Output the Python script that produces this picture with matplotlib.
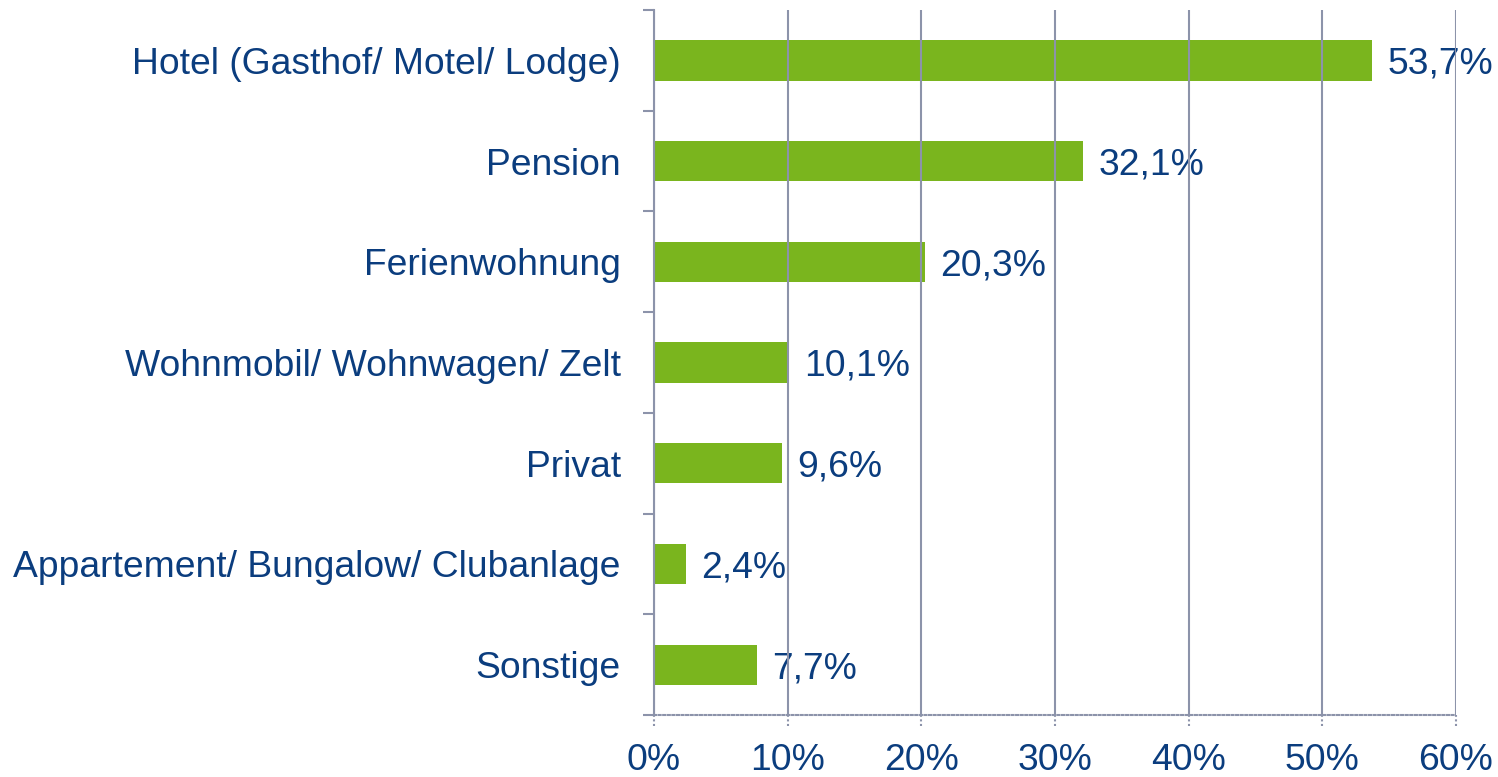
import matplotlib
matplotlib.use("Agg")
import matplotlib.pyplot as plt
from matplotlib.ticker import FixedLocator

categories = ["Hotel (Gasthof/ Motel/ Lodge)", "Pension", "Ferienwohnung",
              "Wohnmobil/ Wohnwagen/ Zelt", "Privat",
              "Appartement/ Bungalow/ Clubanlage", "Sonstige"]
values = [53.7, 32.1, 20.3, 10.1, 9.6, 2.4, 7.7]
xticks = [0, 10, 20, 30, 40, 50, 60]
xticklabels = ["0%", "10%", "20%", "30%", "40%", "50%", "60%"]

plt.rcParams['font.family'] = ['Liberation Sans', 'DejaVu Sans']
text_col = "#0b3d7e"
grid_col = "#8c93aa"
bar_col = "#7ab51e"
fs = 26.8

fig = plt.figure(figsize=(14.98, 7.77), dpi=100)
ax = fig.add_axes([654/1498, 62/777, 802/1498, 705/777])

y = list(range(len(categories)))
ax.barh(y, values, height=0.4, color=bar_col, zorder=2)
ax.set_xlim(0, 60)
ax.set_ylim(len(categories) - 0.5, -0.5)

for yi, v in zip(y, values):
    ax.annotate(f"{v:.1f}".replace(".", ",") + "%", (v, yi), xytext=(11, 0),
                textcoords="offset points", va="center_baseline", ha="left",
                fontsize=fs, color=text_col, zorder=3)

ax.set_yticks(y)
ax.set_yticklabels(categories, fontsize=fs, color=text_col)
for lab in ax.get_yticklabels():
    lab.set_verticalalignment("center_baseline")
ax.yaxis.set_minor_locator(FixedLocator([i - 0.5 for i in range(len(categories) + 1)]))
ax.tick_params(axis='y', which='major', length=0, pad=24)
ax.tick_params(axis='y', which='minor', length=8, width=1.5, color=grid_col)

ax.set_xticks(xticks)
ax.set_xticklabels(xticklabels, fontsize=fs, color=text_col)
ax.tick_params(axis='x', which='major', length=0, pad=20)

for xt in xticks:
    ax.axvline(xt, color=grid_col, lw=1.5, zorder=4)
ax.vlines(xticks, -0.016, 0, transform=ax.get_xaxis_transform(), colors=grid_col,
          linestyles=(0, (1, 1.2)), lw=1.5, clip_on=False)

for s in ['top', 'right']:
    ax.spines[s].set_visible(False)
ax.spines['left'].set_color(grid_col)
ax.spines['left'].set_linewidth(1.5)
ax.spines['bottom'].set_color(grid_col)
ax.spines['bottom'].set_linewidth(1.5)
ax.spines['bottom'].set_linestyle((0, (1, 1.2)))

fig.savefig("out.png", dpi=100)
